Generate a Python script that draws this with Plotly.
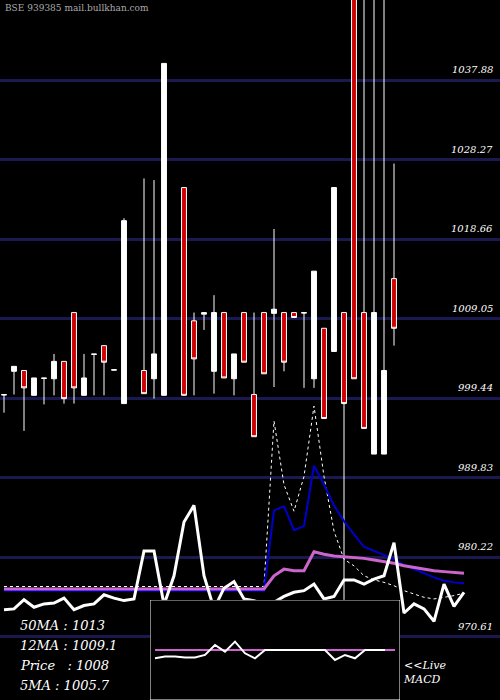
import plotly.graph_objects as go

idx = [0,1,2,3,4,5,6,7,8,9,10,11,12,14,15,16,18,19,20,21,22,23,24,25,26,27,28,29,30,31,32,33,34,35,36,37,38,39]
opens = [999.9,1002.7,1002.8,999.8,1001.9,1001.8,1003.9,1009.8,999.8,1004.8,1005.8,1002.9,998.8,1002.8,1001.8,999.8,1024.9,1008.8,1009.8,1002.7,1009.8,1001.8,1009.8,999.9,1009.8,1009.7,1009.8,1009.8,1009.8,1001.8,1007.9,1005.1,1009.8,1050,1009.8,992.7,992.7,1013.9]
highs = [999.9,1003.3,1002.8,1001.9,1001.9,1004.8,1003.9,1009.8,1004.8,1004.8,1005.8,1002.9,1021.2,1026.0,1025.8,1039.9,1024.9,1009.8,1009.8,1011.9,1009.8,1004.8,1009.8,1009.8,1009.8,1019.9,1009.8,1009.8,1009.8,1014.8,1007.9,1024.9,1009.8,1050,1050,1050,1050,1027.8]
lows = [997.7,999.9,995.5,999.8,998.7,999.8,998.8,998.8,999.8,999.8,999.8,1002.9,998.8,1000.0,999.4,999.8,999.8,999.8,1007.7,1000.0,1001.9,999.8,1003.8,994.8,1002.4,1000.8,1002.7,1009.2,1000.7,1000.7,997.0,1005.1,975.0,1001.8,995.8,992.7,992.7,1005.8]
closes = [999.85,1003.3,1000.7,1001.9,1001.85,1003.9,999.4,1000.7,1001.9,1004.75,1003.8,1002.85,1020.9,1000.0,1004.8,1039.9,999.8,1004.2,1009.6,1009.8,1001.9,1004.8,1003.8,994.8,1002.4,1010.2,1003.8,1009.2,1009.75,1014.8,997.0,1024.9,998.8,1001.8,995.8,1009.8,1002.8,1007.9]

line_x = list(range(47))
blue_ma = [976.2]*27 + [985.9,986.4,983.5,984.0,991.3,989.0,986.5,984.6,983.0,981.5,981.0,980.5,980.0,979.3,978.8,978.3,977.8,977.4,977.2,977.1]
purple_ma = [976.4]*27 + [978.0,978.8,978.6,978.6,980.9,980.6,980.4,980.3,980.2,980.1,979.9,979.7,979.5,979.2,979.0,978.8,978.6,978.5,978.4,978.3]
dotted_ma = [976.7]*27 + [996.7,989.0,985.8,990.0,998.5,990.0,983.4,980.0,979.2,978.0,977.5,977.2,976.8,976.2,975.8,975.4,975.2,975.4,975.6,975.9]
osc = [973.9,974.0,975.1,974.2,974.6,974.7,975.3,973.9,974.4,974.6,975.7,975.3,975.0,975.2,981.0,981.0,974.5,978.0,984.5,986.5,978.0,974.0,976.5,977.3,975.2,975.0,974.6,974.8,975.5,976.0,976.2,977.0,975.2,975.5,977.5,977.5,977.0,977.6,978.0,982.0,973.5,974.6,974.0,972.5,977.0,974.3,976.0]

macd_x = list(range(25))
macd_signal = [0.0]*25
macd_line = [-0.5,-0.4,-0.4,-0.45,-0.45,-0.3,0.3,-0.1,0.5,-0.2,-0.5,0.0,0.0,0.0,0.0,0.0,0.0,0.0,-0.6,-0.3,-0.5,0.0,0.0,0.0,0.0]

grid_vals = [1037.88,1028.27,1018.66,1009.05,999.44,989.83,980.22,970.61]
info = ["50MA : 1013","12MA : 1009.1","Price   : 1008","5MA : 1005.7"]

fig = go.Figure()
fig.add_trace(go.Scatter(x=line_x, y=dotted_ma, mode="lines", line=dict(color="white", width=1, dash="dot"), hoverinfo="skip"))
fig.add_trace(go.Scatter(x=line_x, y=blue_ma, mode="lines", line=dict(color="#0000cc", width=2), hoverinfo="skip"))
fig.add_trace(go.Scatter(x=line_x, y=purple_ma, mode="lines", line=dict(color="#cc66cc", width=3), hoverinfo="skip"))
fig.add_trace(go.Scatter(x=line_x, y=osc, mode="lines", line=dict(color="white", width=3), hoverinfo="skip"))
fig.add_trace(go.Candlestick(x=idx, open=opens, high=highs, low=lows, close=closes,
    increasing=dict(fillcolor="white", line=dict(color="white", width=1)),
    decreasing=dict(fillcolor="#cc0000", line=dict(color="white", width=1)),
    whiskerwidth=0, hoverinfo="skip"))
# MACD inset
fig.add_trace(go.Scatter(x=[-0.5,24.5,24.5,-0.5,-0.5], y=[-3,-3,3,3,-3], fill="toself", fillcolor="black",
    line=dict(color="white", width=1), mode="lines", xaxis="x2", yaxis="y2", hoverinfo="skip"))
fig.add_trace(go.Scatter(x=macd_x, y=macd_signal, mode="lines", line=dict(color="#cc66cc", width=2), xaxis="x2", yaxis="y2", hoverinfo="skip"))
fig.add_trace(go.Scatter(x=macd_x[:-1], y=macd_line[:-1], mode="lines", line=dict(color="white", width=2), xaxis="x2", yaxis="y2", hoverinfo="skip"))

fig.update_layout(
    width=500, height=700, margin=dict(l=0, r=0, t=0, b=0, pad=0, autoexpand=False),
    paper_bgcolor="black", plot_bgcolor="black", showlegend=False,
    xaxis=dict(range=[-0.4, 49.6], visible=False, rangeslider=dict(visible=False), fixedrange=True),
    yaxis=dict(range=[962.99, 1047.56], tickvals=grid_vals, showticklabels=False, gridcolor="#1a1a50", gridwidth=3, zeroline=False),
    xaxis2=dict(domain=[0.3, 0.8], range=[-0.5, 24.5], visible=False, anchor="y2"),
    yaxis2=dict(domain=[0, 0.143], range=[-3, 3], visible=False, anchor="x2"),
)
fnt = dict(family="DejaVu Serif", color="white", size=10, style="italic")
for v in grid_vals:
    fig.add_annotation(x=0.99, xref="paper", y=v, yref="y", text=f"{v:.2f}", showarrow=False,
                       xanchor="right", yanchor="bottom", yshift=3, font=fnt)
fig.add_annotation(x=0.005, xref="paper", y=0.998, yref="paper", text="BSE 939385 mail.bullkhan.com", showarrow=False,
                   xanchor="left", yanchor="top", font=dict(family="DejaVu Serif", color="#aaaaaa", size=9))
for i, t in enumerate(info):
    fig.add_annotation(x=0.035, xref="paper", y=(700-625-i*20)/700, yref="paper", text=t, showarrow=False,
                       xanchor="left", yanchor="middle", font=dict(family="DejaVu Serif", color="white", size=13, style="italic"))
fig.add_annotation(x=0.802, xref="paper", y=(700-672)/700, yref="paper", text="<<Live<br>MACD", showarrow=False,
                   xanchor="left", yanchor="middle", align="left", font=dict(family="DejaVu Serif", color="white", size=11, style="italic"))
fig.write_html("out.html", config={"displayModeBar": False},
               post_script="document.body.style.margin='0';document.body.style.background='black';")
